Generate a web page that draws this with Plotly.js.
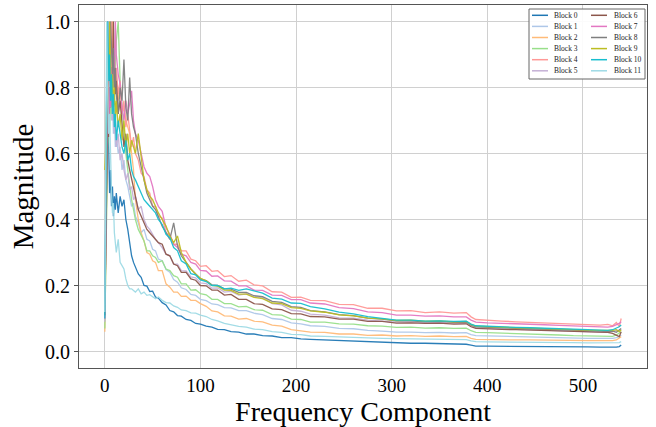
<!DOCTYPE html>
<html>
<head>
<meta charset="utf-8">
<script src="https://cdn.plot.ly/plotly-3.0.1.min.js"></script>
<style>html,body{margin:0;padding:0;background:#fff;}#chart{width:656px;height:427px;}</style>
</head>
<body>
<div id="chart"></div>
<script>
// Frequency component index (shared x values)
const freq = [0,1,2,3,4,5,6,7,8,9,10,11,12,
  14,16,18,20,22,24,26,28,30,32,
  35,38,41,44,47,50,53,56,
  60,64,68,72,76,80,
  85,90,95,100,
  106,112,118,125,132,140,148,156,165,175,185,195,205,215,
  230,245,260,275,290,305,320,335,350,365,378,
  383,388,400,415,430,445,460,475,490,505,518,526,531,535,538,540];

const blockNames = ["Block 0","Block 1","Block 2","Block 3","Block 4","Block 5",
  "Block 6","Block 7","Block 8","Block 9","Block 10","Block 11"];
const blockColors = ["#1f77b4","#aec7e8","#ffbb78","#98df8a","#ff9896","#c5b0d5",
  "#8c564b","#e377c2","#7f7f7f","#bcbd22","#17becf","#9edae5"];

const block0 = [0.10,0.35,0.72,1.0,0.62,0.48,0.55,0.44,0.50,0.41,0.47,0.43,0.48,
  0.42,0.47,0.44,0.46,0.40,0.37,0.33,0.29,0.27,0.255,
  0.235,0.225,0.2,0.198,0.182,0.183,0.165,0.162,
  0.148,0.141,0.124,0.12,0.109,0.107,
  0.097,0.094,0.085,0.083,
  0.077,0.074,0.067,0.066,0.06,0.059,0.053,0.053,0.048,0.047,0.042,0.042,0.038,0.037,
  0.035,0.033,0.031,0.03,0.028,0.026,0.025,0.025,0.024,0.023,0.022,
  0.019,0.016,0.016,0.016,0.015,0.015,0.015,0.014,0.014,0.014,0.013,0.013,0.012,0.013,0.015,0.02];
const block1 = [0.12,0.45,0.70,0.85,0.78,1.0,0.82,0.70,0.76,0.66,0.72,0.62,0.66,
  0.60,0.62,0.55,0.58,0.52,0.50,0.47,0.44,0.45,0.41,
  0.39,0.36,0.37,0.34,0.335,0.31,0.305,0.28,
  0.275,0.248,0.24,0.218,0.21,0.193,
  0.188,0.173,0.17,0.158,
  0.154,0.144,0.142,0.133,0.132,0.124,0.124,0.116,0.112,0.1,0.097,0.087,0.084,0.078,
  0.076,0.07,0.069,0.064,0.062,0.059,0.059,0.057,0.058,0.056,0.057,
  0.051,0.048,0.047,0.046,0.045,0.044,0.043,0.042,0.041,0.04,0.04,0.039,0.04,0.042,0.045,0.05];
const block2 = [0.06,0.30,0.55,0.70,0.80,0.75,0.88,0.82,1.0,0.86,0.90,0.80,0.84,
  0.76,0.80,0.72,0.74,0.70,0.68,0.66,0.60,0.55,0.46,
  0.40,0.36,0.335,0.30,0.295,0.275,0.27,0.245,
  0.245,0.205,0.195,0.18,0.18,0.167,
  0.168,0.155,0.155,0.145,
  0.137,0.123,0.12,0.108,0.107,0.098,0.1,0.092,0.09,0.08,0.077,0.066,0.063,0.059,
  0.058,0.053,0.053,0.049,0.05,0.047,0.048,0.046,0.047,0.045,0.046,
  0.04,0.037,0.036,0.036,0.035,0.035,0.034,0.034,0.033,0.033,0.033,0.032,0.033,0.035,0.04,0.045];
const block3 = [0.07,0.30,0.50,0.62,0.70,0.66,0.78,0.72,0.85,0.80,0.90,0.86,0.94,
  1.0,0.82,0.74,0.66,0.60,0.55,0.50,0.46,0.43,0.40,
  0.37,0.35,0.335,0.305,0.305,0.29,0.285,0.27,
  0.275,0.25,0.245,0.23,0.225,0.205,
  0.205,0.186,0.187,0.175,
  0.172,0.158,0.158,0.145,0.145,0.135,0.137,0.127,0.125,0.112,0.11,0.098,0.097,0.089,
  0.089,0.084,0.083,0.078,0.077,0.073,0.074,0.071,0.072,0.07,0.071,
  0.063,0.058,0.057,0.056,0.054,0.053,0.051,0.05,0.048,0.047,0.046,0.045,0.046,0.05,0.055,0.06];
const block4 = [0.10,0.40,0.60,0.75,0.82,0.90,0.85,1.0,0.88,0.82,0.90,0.80,0.86,
  0.78,0.82,0.72,0.76,0.68,0.72,0.66,0.62,0.65,0.60,
  0.58,0.54,0.53,0.49,0.48,0.44,0.44,0.41,
  0.405,0.36,0.35,0.325,0.325,0.305,
  0.305,0.28,0.275,0.258,
  0.26,0.243,0.245,0.227,0.23,0.213,0.216,0.202,0.199,0.181,0.18,0.164,0.165,0.155,
  0.154,0.143,0.142,0.131,0.131,0.123,0.124,0.118,0.12,0.116,0.118,
  0.105,0.097,0.094,0.092,0.09,0.088,0.086,0.084,0.082,0.081,0.08,0.082,0.078,0.088,0.075,0.1];
const block5 = [0.09,0.55,0.85,0.90,1.0,0.82,0.75,0.80,0.70,0.74,0.66,0.70,0.62,
  0.66,0.58,0.60,0.55,0.52,0.54,0.49,0.50,0.46,0.47,
  0.43,0.44,0.40,0.38,0.37,0.355,0.34,0.33,
  0.315,0.295,0.29,0.265,0.265,0.245,
  0.244,0.226,0.223,0.208,
  0.206,0.192,0.193,0.18,0.182,0.171,0.175,0.166,0.163,0.145,0.141,0.125,0.122,0.113,
  0.11,0.102,0.101,0.095,0.093,0.089,0.09,0.087,0.088,0.085,0.086,
  0.077,0.072,0.07,0.068,0.067,0.066,0.065,0.063,0.061,0.06,0.059,0.058,0.06,0.062,0.065,0.068];
const block6 = [0.12,0.32,0.55,0.70,0.65,0.80,0.74,0.86,0.80,1.0,0.84,0.78,0.82,
  0.72,0.76,0.68,0.62,0.66,0.58,0.55,0.52,0.50,0.47,
  0.43,0.41,0.39,0.37,0.36,0.35,0.34,0.33,
  0.325,0.295,0.29,0.265,0.26,0.24,
  0.24,0.22,0.216,0.2,
  0.199,0.186,0.186,0.171,0.173,0.158,0.158,0.145,0.143,0.129,0.127,0.115,0.114,0.106,
  0.105,0.098,0.098,0.091,0.091,0.086,0.087,0.085,0.086,0.083,0.084,
  0.075,0.07,0.068,0.067,0.066,0.065,0.064,0.063,0.061,0.06,0.06,0.058,0.055,0.05,0.045,0.06];
const block7 = [0.10,0.45,0.62,0.70,0.66,0.80,0.74,0.86,0.80,0.90,0.84,1.0,0.90,
  0.84,0.81,0.74,0.70,0.76,0.72,0.75,0.79,0.70,0.66,
  0.64,0.60,0.56,0.54,0.53,0.50,0.46,0.44,
  0.425,0.375,0.355,0.325,0.315,0.295,
  0.29,0.27,0.265,0.246,
  0.244,0.228,0.229,0.214,0.213,0.199,0.199,0.186,0.185,0.171,0.17,0.157,0.157,0.147,
  0.144,0.133,0.13,0.12,0.118,0.11,0.11,0.107,0.108,0.105,0.105,
  0.095,0.089,0.087,0.086,0.084,0.083,0.081,0.079,0.077,0.076,0.075,0.074,0.076,0.08,0.085,0.09];
const block8 = [0.11,0.40,0.62,0.80,0.88,0.82,1.0,0.90,0.84,0.92,0.80,0.86,0.78,
  0.72,0.80,0.76,0.885,0.74,0.70,0.83,0.72,0.68,0.66,
  0.60,0.56,0.52,0.48,0.46,0.44,0.43,0.41,
  0.38,0.36,0.34,0.39,0.32,0.29,
  0.27,0.25,0.235,0.22,
  0.215,0.202,0.2,0.19,0.189,0.179,0.179,0.169,0.166,0.152,0.149,0.136,0.134,0.124,
  0.12,0.112,0.109,0.101,0.098,0.093,0.093,0.09,0.091,0.088,0.089,
  0.08,0.075,0.073,0.072,0.07,0.069,0.067,0.066,0.064,0.063,0.062,0.06,0.062,0.058,0.065,0.07];
const block9 = [0.55,0.62,0.78,0.90,0.84,1.0,0.86,0.78,0.84,0.74,0.80,0.70,0.76,
  0.68,0.72,0.64,0.70,0.62,0.66,0.60,0.64,0.62,0.60,
  0.66,0.58,0.52,0.49,0.47,0.46,0.44,0.42,
  0.40,0.38,0.35,0.33,0.35,0.30,
  0.27,0.25,0.235,0.222,
  0.214,0.2,0.198,0.186,0.185,0.174,0.174,0.164,0.16,0.147,0.145,0.133,0.131,0.123,
  0.119,0.111,0.108,0.101,0.099,0.094,0.095,0.092,0.093,0.09,0.091,
  0.082,0.077,0.075,0.074,0.072,0.071,0.069,0.068,0.066,0.065,0.064,0.063,0.064,0.066,0.06,0.065];
const block10 = [0.10,0.60,0.85,1.0,0.82,0.90,0.76,0.84,0.72,0.78,0.68,0.72,0.64,
  0.70,0.66,0.62,0.60,0.64,0.58,0.60,0.55,0.53,0.52,
  0.50,0.48,0.46,0.45,0.44,0.43,0.42,0.40,
  0.385,0.355,0.345,0.315,0.305,0.275,
  0.265,0.236,0.232,0.217,
  0.212,0.2,0.2,0.19,0.192,0.185,0.19,0.184,0.177,0.162,0.159,0.147,0.146,0.136,
  0.129,0.119,0.114,0.106,0.101,0.095,0.095,0.092,0.093,0.091,0.092,
  0.083,0.078,0.076,0.075,0.073,0.072,0.07,0.069,0.067,0.066,0.065,0.064,0.066,0.07,0.075,0.08];
const block11 = [0.12,0.50,1.0,0.78,0.66,0.72,0.55,0.48,0.42,0.45,0.36,0.33,0.30,
  0.34,0.27,0.26,0.25,0.22,0.20,0.19,0.19,0.185,0.18,
  0.19,0.175,0.18,0.17,0.172,0.165,0.16,0.165,
  0.155,0.148,0.147,0.138,0.134,0.126,
  0.124,0.117,0.116,0.11,
  0.106,0.097,0.093,0.085,0.081,0.076,0.074,0.068,0.066,0.06,0.058,0.052,0.051,0.047,
  0.046,0.044,0.043,0.042,0.04,0.039,0.038,0.038,0.037,0.037,0.036,
  0.032,0.03,0.029,0.029,0.028,0.028,0.027,0.027,0.027,0.026,0.026,0.025,0.025,0.026,0.027,0.03];

const xTicks = [0,100,200,300,400,500];
const yTicks = [0.0,0.2,0.4,0.6,0.8,1.0];
const yTickText = ["0.0","0.2","0.4","0.6","0.8","1.0"];

const series = [block0,block1,block2,block3,block4,block5,block6,block7,block8,block9,block10,block11];
const FONT = "Liberation Serif, Times New Roman, serif";

const traces = series.map((vals, i) => ({
  type: "scatter", mode: "lines", name: blockNames[i],
  x: freq, y: vals,
  line: {color: blockColors[i], width: 1.3},
  opacity: 0.95,
  showlegend: false
}));

// Plot area in pixels (for legend placement)
const W = 656, H = 427, ML = 79, MR = 9, MT = 5, MB = 59;
const PW = W - ML - MR, PH = H - MT - MB;
const px2x = p => (p - ML) / PW;
const px2y = p => (H - MB - p) / PH;

const shapes = [{
  type: "rect", xref: "paper", yref: "paper",
  x0: px2x(529), x1: px2x(645), y0: px2y(79), y1: px2y(9),
  line: {color: "#666", width: 1}, fillcolor: "rgba(255,255,255,0.9)", layer: "above"
}];
const annotations = [];
blockNames.forEach((nm, i) => {
  const col = i < 6 ? 0 : 1;
  const row = i % 6;
  const yPix = 15.3 + row * 11.1;
  const lx0 = col === 0 ? 532 : 591;
  const lx1 = col === 0 ? 548 : 607;
  const tx = col === 0 ? 552 : 612;
  shapes.push({type: "line", xref: "paper", yref: "paper",
    x0: px2x(lx0), x1: px2x(lx1), y0: px2y(yPix), y1: px2y(yPix),
    line: {color: blockColors[i], width: 1.5}, layer: "above"});
  annotations.push({xref: "paper", yref: "paper", x: px2x(tx), y: px2y(yPix),
    xanchor: "left", yanchor: "middle", showarrow: false, text: nm,
    font: {family: FONT, size: 7.5, color: "#222"}});
});

const layout = {
  width: W, height: H,
  margin: {l: ML, r: MR, t: MT, b: MB, pad: 0},
  paper_bgcolor: "#ffffff", plot_bgcolor: "#ffffff",
  font: {family: FONT, color: "#000"},
  showlegend: false,
  xaxis: {
    range: [-27, 567], tickvals: xTicks, ticktext: xTicks.map(String),
    showgrid: true, gridcolor: "#d0d0d0", gridwidth: 1, zeroline: false,
    showline: true, mirror: true, linecolor: "#555", linewidth: 1,
    ticks: "",
    tickfont: {family: FONT, size: 19, color: "#000"},
    title: {text: "Frequency Component", font: {family: FONT, size: 28, color: "#000"}, standoff: 7}
  },
  yaxis: {
    range: [-0.05, 1.05], tickvals: yTicks, ticktext: yTickText,
    showgrid: true, gridcolor: "#d0d0d0", gridwidth: 1, zeroline: false,
    showline: true, mirror: true, linecolor: "#555", linewidth: 1,
    ticks: "outside", ticklen: 4, tickcolor: "#555",
    tickfont: {family: FONT, size: 20, color: "#000"},
    title: {text: "Magnitude", font: {family: FONT, size: 29, color: "#000"}, standoff: 2}
  },
  shapes: shapes,
  annotations: annotations
};

Plotly.newPlot("chart", traces, layout, {displayModeBar: false, staticPlot: true});
</script>
</body>
</html>
